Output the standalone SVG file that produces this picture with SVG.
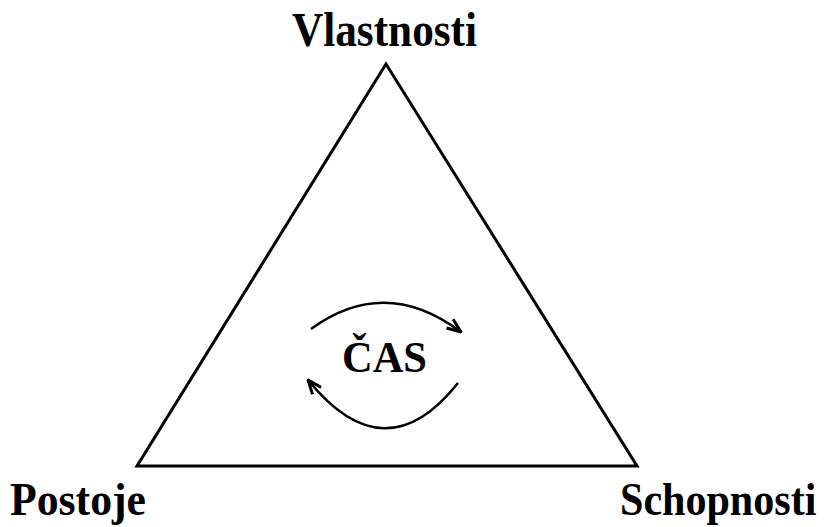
<svg xmlns="http://www.w3.org/2000/svg" width="826" height="527" viewBox="0 0 826 527">
<style>
.lbl{font-family:"Liberation Serif","Times New Roman",serif;font-weight:bold;fill:#000}
.edge{fill:none;stroke:#000;stroke-width:2.6}
</style>
<defs>
<marker id="arr" viewBox="0 0 16 14" refX="15" refY="7" markerWidth="16" markerHeight="14" markerUnits="userSpaceOnUse" orient="auto">
<path d="M1,1.5 L15,7 L1,12.5" fill="none" stroke="#000" stroke-width="3" stroke-linejoin="miter"/>
</marker>
</defs>
<rect width="826" height="527" fill="#fff"/>
<g id="triangle">
<polygon points="386,64 137,466 637,466" fill="none" stroke="#000" stroke-width="3"/>
</g>
<g id="vlastnosti"><text class="lbl" x="292" y="46" font-size="48" textLength="185" lengthAdjust="spacingAndGlyphs">Vlastnosti</text></g>
<g id="postoje"><text class="lbl" x="10" y="515" font-size="47" textLength="136" lengthAdjust="spacingAndGlyphs">Postoje</text></g>
<g id="schopnosti"><text class="lbl" transform="translate(620,515) scale(0.895,1)" x="0" y="0" font-size="47">Schopnosti</text></g>
<g id="cas"><text class="lbl" x="342" y="372" font-size="45" textLength="85" lengthAdjust="spacingAndGlyphs">ČAS</text></g>
<g id="connectors">
<path class="edge" d="M311,329 Q385,275 461,332" marker-end="url(#arr)"/>
<path class="edge" d="M458,383 Q385,475 308,380" marker-end="url(#arr)"/>
</g>
</svg>
